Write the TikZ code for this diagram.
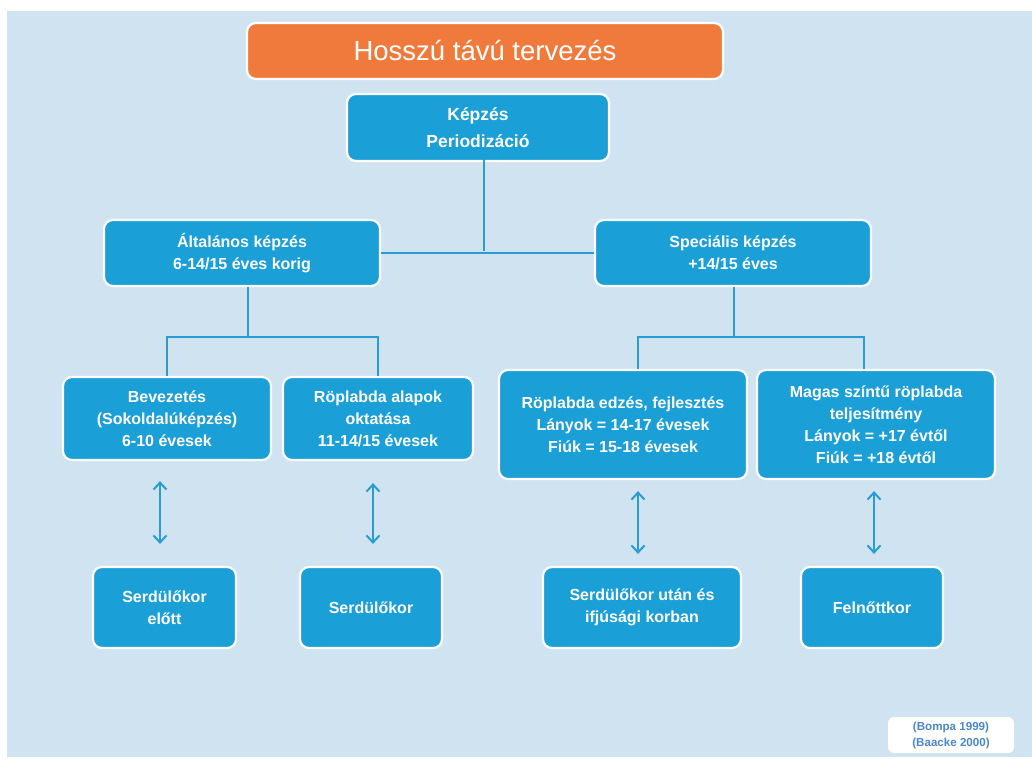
\documentclass[tikz,border=0pt]{standalone}
\usepackage{fontspec}
\setmainfont{Liberation Sans}
\usetikzlibrary{arrows.meta,calc}
\definecolor{pagebg}{HTML}{CFE3F1}
\definecolor{boxblue}{HTML}{1A9FD6}
\definecolor{linkblue}{HTML}{2B9BD3}
\definecolor{titleorange}{HTML}{F07A3C}
\definecolor{citeblue}{HTML}{4A88C9}
\tikzset{
  box/.style={draw=white, line width=2.2pt, fill=boxblue, rounded corners=9pt,
    text=white, align=center, inner sep=0pt,
    font=\fontsize{16}{22}\selectfont\bfseries},
  titlebox/.style={box, fill=titleorange, font=\fontsize{27.5}{30}\selectfont},
  topbox/.style={box, font=\fontsize{17.5}{27}\selectfont\bfseries},
  citebox/.style={draw=none, fill=white, rounded corners=6pt, text=citeblue,
    align=center, inner sep=0pt, font=\fontsize{11.6}{16}\selectfont\bfseries},
  conn/.style={draw=linkblue, line width=2pt},
  twoway/.style={draw=linkblue, line width=2pt,
    {Straight Barb[length=7pt,width=13pt,line width=2pt]}-{Straight Barb[length=7pt,width=13pt,line width=2pt]}}
}
\begin{document}
\begin{tikzpicture}[x=1pt,y=-1pt]
\useasboundingbox (0,0) rectangle (1032,758);
\fill[white] (0,0) rectangle (1032,758);
\fill[pagebg] (7,11) rectangle (1032,757);

% junction points of the tree
\coordinate (hub) at (484,251);
\coordinate (jL) at (248,337);
\coordinate (jR) at (734,337);

% boxes
\node[titlebox, minimum width=476pt, minimum height=56pt] (title) at (485,51) {Hosszú távú tervezés};
\node[topbox, minimum width=262pt, minimum height=67pt] (top) at (478,127.5) {Képzés\\Periodizáció};
\node[box, minimum width=276pt, minimum height=66pt] (gen) at (242,253) {Általános képzés\\6-14/15 éves korig};
\node[box, minimum width=276pt, minimum height=66pt] (spec) at (733,253) {Speciális képzés\\+14/15 éves};

\node[box, minimum width=208pt, minimum height=83pt] (bev) at (167,418.5) {Bevezetés\\(Sokoldalúképzés)\\6-10 évesek};
\node[box, minimum width=190pt, minimum height=83pt] (alap) at (378,418.5) {Röplabda alapok\\oktatása\\11-14/15 évesek};
\node[box, minimum width=248pt, minimum height=109pt] (edz) at (623,424.5) {Röplabda edzés, fejlesztés\\Lányok = 14-17 évesek\\Fiúk = 15-18 évesek};
\node[box, minimum width=238pt, minimum height=109pt] (mag) at (876,424.5) {Magas színtű röplabda\\teljesítmény\\Lányok = +17 évtől\\Fiúk = +18 évtől};

\node[box, minimum width=143pt, minimum height=81pt] (b1) at (164.5,607.5) {Serdülőkor\\előtt};
\node[box, minimum width=142pt, minimum height=81pt] (b2) at (371,607.5) {Serdülőkor};
\node[box, minimum width=198pt, minimum height=81pt] (b3) at (642,607.5) {Serdülőkor után és\\ifjúsági korban};
\node[box, minimum width=142pt, minimum height=81pt] (b4) at (872,607.5) {Felnőttkor};

\node[citebox, minimum width=126pt, minimum height=36pt] (cite) at (951,735) {(Bompa 1999)\\(Baacke 2000)};

% tree connectors
\draw[conn] ([yshift=4pt]top.south -| hub) -- (hub);
\draw[conn] (gen.east) -- (spec.west);
\draw[conn] (gen.south -| jL) -- (jL);
\draw[conn] (bev.north) |- (alap.north |- jL) -- (alap.north);
\draw[conn] (spec.south -| jR) -- (jR);
\draw[conn] ([xshift=15pt]edz.north) |- ([xshift=-12pt]mag.north |- jR) -- ([xshift=-12pt]mag.north);

% two-way arrows between stages and age groups
\draw[twoway, shorten <=20pt, shorten >=22pt] ([xshift=-7pt]bev.south) -- ([xshift=-4.5pt]b1.north);
\draw[twoway, shorten <=22pt, shorten >=22pt] ([xshift=-5pt]alap.south) -- ([xshift=2pt]b2.north);
\draw[twoway, shorten <=11pt, shorten >=12pt] ([xshift=15pt]edz.south) -- ([xshift=-4pt]b3.north);
\draw[twoway, shorten <=11pt, shorten >=12pt] ([xshift=-2pt]mag.south) -- ([xshift=2pt]b4.north);
\end{tikzpicture}
\end{document}
